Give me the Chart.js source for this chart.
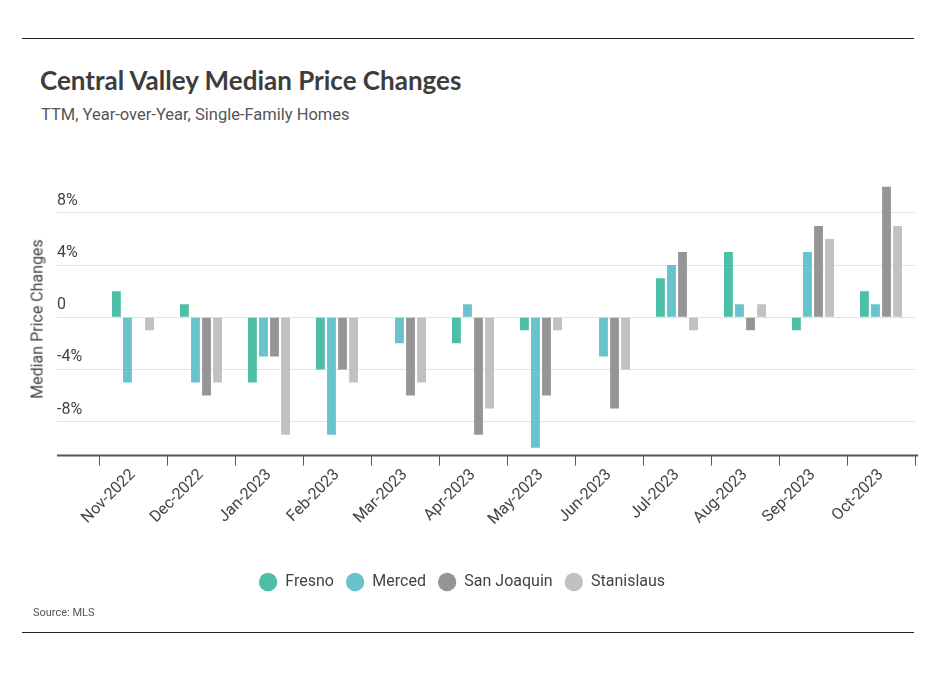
<!DOCTYPE html>
<html>
<head>
<meta charset="utf-8">
<script src="https://cdn.jsdelivr.net/npm/chart.js@4.4.0/dist/chart.umd.min.js"></script>
<style>
  body { margin: 0; background: #fff; width: 936px; height: 674px; position: relative; overflow: hidden; font-family: "Roboto", sans-serif; color: #444; }
  .rule { position: absolute; left: 22px; width: 892px; height: 1px; background: #222; }
  #titulo { position: absolute; left: 40px; top: 64px; font-family: "Lato", sans-serif; font-weight: bold; font-size: 26px; color: #3d3d3d; }
  #subtitulo { position: absolute; left: 41px; top: 105px; font-size: 16.5px; color: #555; }
  #fuente { position: absolute; left: 33px; top: 606px; font-size: 11px; color: #555; }
  #tituloY { position: absolute; left: 37px; top: 319px; font-size: 16px; color: #444; white-space: nowrap;
             transform: translate(-50%, -50%) rotate(-90deg); }
  #marco { position: absolute; left: 0; top: 150px; width: 936px; height: 460px; }
</style>
</head>
<body>
<div class="rule" style="top:38px"></div>
<div id="titulo">Central Valley Median Price Changes</div>
<div id="subtitulo">TTM, Year-over-Year, Single-Family Homes</div>
<div id="marco"><canvas id="grafica"></canvas></div>
<div id="tituloY">Median Price Changes</div>
<div id="fuente">Source: MLS</div>
<div class="rule" style="top:632px"></div>
<script>
const meses = ["Nov-2022", "Dec-2022", "Jan-2023", "Feb-2023", "Mar-2023", "Apr-2023",
               "May-2023", "Jun-2023", "Jul-2023", "Aug-2023", "Sep-2023", "Oct-2023"];
const fresno      = [2, 1, -5, -4, 0, -2, -1, 0, 3, 5, -1, 2];
const merced      = [-5, -5, -3, -9, -2, 1, -10, -3, 4, 1, 5, 1];
const sanJoaquin  = [0, -6, -3, -4, -6, -9, -6, -7, 5, -1, 7, 10];
const stanislaus  = [-1, -5, -9, -5, -5, -7, -1, -4, -1, 1, 6, 7];
const ticksY = [-8, -4, 0, 4, 8];

// linea base del eje x, alargada hasta donde empiezan las etiquetas del eje y
const lineaBase = {
  id: "lineaBase",
  afterDraw(chart) {
    const c = chart.ctx, a = chart.chartArea;
    c.save();
    c.strokeStyle = "#555";
    c.lineWidth = 2;
    c.beginPath();
    c.moveTo(a.left - 42, a.bottom);
    c.lineTo(a.right + 3, a.bottom);
    c.stroke();
    c.restore();
  }
};

function serie(nombre, valores, color) {
  return { label: nombre, data: valores, backgroundColor: color, borderWidth: 0,
           categoryPercentage: 0.65, barPercentage: 0.8 };
}

const ctx = document.getElementById("grafica").getContext("2d");
window.chart = new Chart(ctx, {
  type: "bar",
  data: {
    labels: meses,
    datasets: [
      serie("Fresno", fresno, "#4dbfa7"),
      serie("Merced", merced, "#67c3cc"),
      serie("San Joaquin", sanJoaquin, "#959595"),
      serie("Stanislaus", stanislaus, "#c1c1c1")
    ]
  },
  options: {
    responsive: true,
    maintainAspectRatio: false,
    animation: false,
    layout: { padding: { left: 9, right: 21, top: 29, bottom: 10 } },
    plugins: {
      legend: {
        position: "bottom",
        labels: { usePointStyle: true, pointStyle: "circle", boxHeight: 13, pointStyleWidth: 18.4,
                  padding: 12, color: "#444", font: { family: "Roboto", size: 16 } }
      },
      tooltip: { enabled: false }
    },
    scales: {
      x: {
        offset: true,
        afterFit: s => { s.height += 33; },
        grid: { offset: true, drawOnChartArea: false, drawTicks: true, tickLength: 10, color: "#555" },
        border: { display: false },
        ticks: { color: "#444", font: { family: "Roboto", size: 16 }, minRotation: 45, maxRotation: 45, padding: 0 }
      },
      y: {
        min: -10.6,
        max: 10.6,
        afterBuildTicks: s => { s.ticks = ticksY.map(v => ({ value: v })); },
        afterFit: s => { s.width = 90; },
        grid: { color: "#e2e2e2", tickLength: 42, drawTicks: true },
        border: { display: false },
        ticks: {
          mirror: true, padding: -42, labelOffset: -12, color: "#444",
          font: { family: "Roboto", size: 16 },
          callback: v => v === 0 ? "0" : v + "%"
        }
      }
    }
  },
  plugins: [lineaBase]
});
</script>
</body>
</html>
